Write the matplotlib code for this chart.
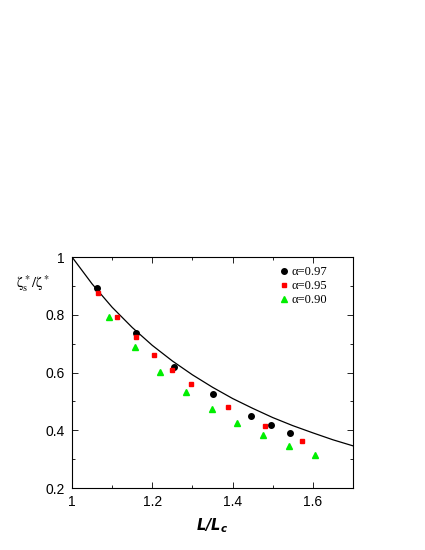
import matplotlib.pyplot as plt
from matplotlib.ticker import MultipleLocator

# curve values
curve_x = [1.00, 1.05, 1.10, 1.15, 1.20, 1.25, 1.30, 1.35, 1.40, 1.45, 1.50, 1.55, 1.60, 1.65, 1.70]
curve_y = [1.000, 0.907, 0.826, 0.756, 0.694, 0.640, 0.592, 0.549, 0.510, 0.476, 0.444, 0.416, 0.391, 0.367, 0.346]

x97 = [1.062, 1.159, 1.255, 1.350, 1.446, 1.495, 1.542]
y97 = [0.892, 0.738, 0.618, 0.526, 0.450, 0.419, 0.391]

x95 = [1.066, 1.112, 1.159, 1.204, 1.250, 1.296, 1.389, 1.482, 1.574]
y95 = [0.876, 0.793, 0.723, 0.661, 0.609, 0.560, 0.479, 0.416, 0.362]

x90 = [1.092, 1.156, 1.220, 1.284, 1.348, 1.412, 1.476, 1.540, 1.605]
y90 = [0.793, 0.688, 0.603, 0.533, 0.474, 0.425, 0.384, 0.347, 0.315]

xticks = [1, 1.2, 1.4, 1.6]
xtick_labels = ['1', '1.2', '1.4', '1.6']
yticks = [0.2, 0.4, 0.6, 0.8, 1.0]
ytick_labels = ['0.2', '0.4', '0.6', '0.8', '1']

plt.rcParams['font.family'] = ['Liberation Sans', 'DejaVu Sans']

fig = plt.figure(figsize=(4.25, 5.5), dpi=100)
ax = fig.add_axes([0.1694, 0.1127, 0.6612, 0.42])

ax.plot(curve_x, curve_y, color='black', lw=0.9)
ax.plot(x97, y97, 'o', color='black', ms=4.0, label='α=0.97')
ax.plot(x95, y95, 's', color='#ff0000', ms=3.5, label='α=0.95')
ax.plot(x90, y90, '^', color='#00ee00', ms=4.2, label='α=0.90')

ax.set_xlim(1, 1.7)
ax.set_ylim(0.2, 1.0)
ax.set_xticks(xticks)
ax.set_xticklabels(xtick_labels)
ax.set_yticks(yticks)
ax.set_yticklabels(ytick_labels)
ax.xaxis.set_minor_locator(MultipleLocator(0.1))
ax.yaxis.set_minor_locator(MultipleLocator(0.1))
ax.tick_params(which='both', direction='in', top=True, right=True, labelsize=10, width=0.6)
ax.tick_params(which='major', length=4, pad=5)
ax.tick_params(which='minor', length=2.5)
for s in ax.spines.values():
    s.set_linewidth(0.8)

ax.set_xlabel(r'$\mathbfit{L/L_c}$', fontsize=10.5, labelpad=5)
fig.text(0.037, 0.485, r'$\mathrm{\zeta_s^*/\zeta^*}$', fontsize=10.5,
         va='center', ha='left', math_fontfamily='stix')

leg = ax.legend(loc='upper right', frameon=False, handlelength=0.5, handletextpad=0.35,
                labelspacing=0.15, borderaxespad=0, borderpad=0, bbox_to_anchor=(0.91, 0.96),
                prop={'family': 'Liberation Serif', 'size': 9})

fig.savefig('out.png', dpi=100)
